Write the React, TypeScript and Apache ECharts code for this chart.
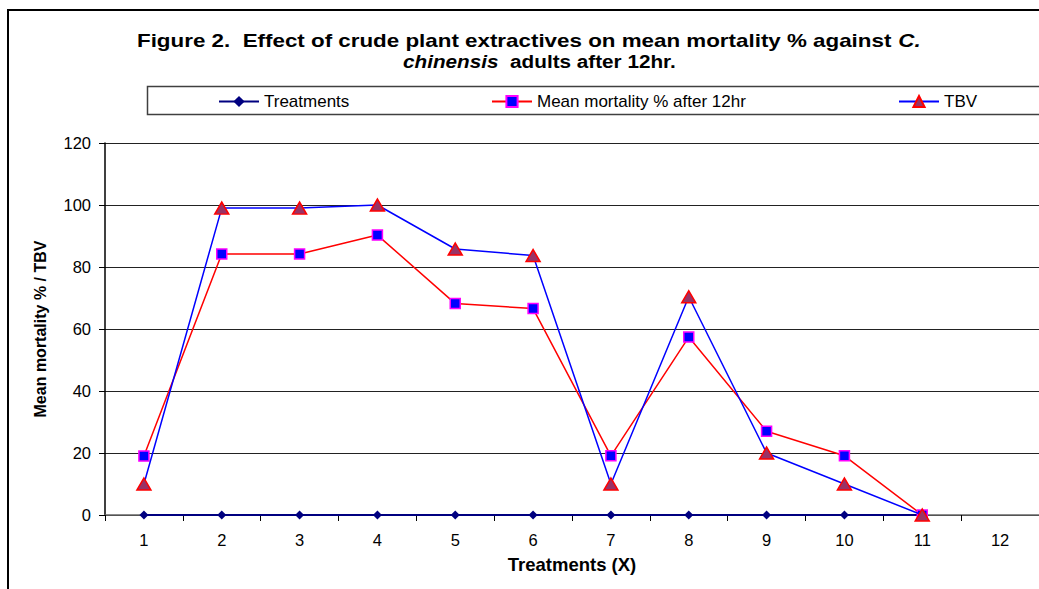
import React, { useEffect, useRef } from "react";
import * as echarts from "echarts";

const categories = ["1", "2", "3", "4", "5", "6", "7", "8", "9", "10", "11", "12"];
const treatments = [0, 0, 0, 0, 0, 0, 0, 0, 0, 0, 0];
const meanMortality = [19, 84.2, 84.2, 90.3, 68.2, 66.6, 19.1, 57.4, 27, 19.1, 0];
const tbv = [10, 99, 99, 100, 85.8, 83.7, 10, 70.4, 20, 10, 0];

const seriesNames = ["Treatments", "Mean mortality % after 12hr", "TBV"];
const titleLine1 = "Figure 2.  Effect of crude plant extractives on mean mortality % against ";
const titleItalic1 = "C.";
const titleItalic2 = "chinensis";
const titleLine2 = "  adults after 12hr.";
const xName = "Treatments (X)";
const yName = "Mean mortality % / TBV";

const FONT = "'Liberation Sans', Arial, sans-serif";

export default function App() {
  const ref = useRef<HTMLDivElement>(null);
  useEffect(() => {
    if (!ref.current) return;
    const chart = echarts.init(ref.current, null, { renderer: "svg" });
    const legendBase = {
      top: 93,
      padding: 0,
      itemWidth: 40,
      itemHeight: 14,
      itemGap: 5,
      textStyle: { fontFamily: FONT, fontSize: 17, color: "#000" },
    };
    const titleRich = {
      b: { fontFamily: FONT, fontSize: 18.5, fontWeight: "bold", fill: "#000" },
      bi: { fontFamily: FONT, fontSize: 18.5, fontWeight: "bold", fontStyle: "italic", fill: "#000" },
    };
    chart.setOption({
      animation: false,
      backgroundColor: "#fff",
      textStyle: { fontFamily: FONT },
      grid: { left: 105, top: 143, width: 939, height: 372 },
      legend: [
        { ...legendBase, left: 218, data: [seriesNames[0]] },
        { ...legendBase, left: 491, data: [seriesNames[1]] },
        { ...legendBase, left: 898, data: [seriesNames[2]] },
      ],
      graphic: [
        {
          type: "rect",
          shape: { x: 8, y: 10, width: 1300, height: 900 },
          style: { fill: "none", stroke: "#000", lineWidth: 2 },
          silent: true,
        },
        {
          type: "rect",
          shape: { x: 147.5, y: 86.5, width: 1200, height: 28 },
          style: { fill: "none", stroke: "#404040", lineWidth: 1.5 },
          silent: true,
        },
        {
          type: "text",
          x: 137,
          y: 40.5,
          scaleX: 1.21,
          style: {
            text: "{b|" + titleLine1 + "}{bi|" + titleItalic1 + "}",
            verticalAlign: "middle",
            align: "left",
            rich: titleRich,
          },
        },
        {
          type: "text",
          x: 403,
          y: 61,
          scaleX: 1.12,
          style: {
            text: "{bi|" + titleItalic2 + "}{b|" + titleLine2 + "}",
            verticalAlign: "middle",
            align: "left",
            rich: titleRich,
          },
        },
      ],
      xAxis: {
        type: "category",
        data: categories,
        boundaryGap: true,
        name: xName,
        nameLocation: "middle",
        nameGap: 40,
        nameTextStyle: { fontFamily: FONT, fontSize: 18.5, fontWeight: "bold", color: "#000" },
        axisLine: { lineStyle: { color: "#666", width: 1.5 } },
        axisTick: { show: true, length: 6, lineStyle: { color: "#000" } },
        axisLabel: { fontFamily: FONT, fontSize: 16.5, color: "#000", margin: 16 },
        splitLine: { show: false },
      },
      yAxis: {
        type: "value",
        min: 0,
        max: 120,
        interval: 20,
        name: yName,
        nameLocation: "middle",
        nameRotate: 90,
        nameGap: 57,
        nameTextStyle: { fontFamily: FONT, fontSize: 16, fontWeight: "bold", color: "#000" },
        axisLine: { show: true, lineStyle: { color: "#000", width: 1.5 } },
        axisTick: { show: true, length: 6, lineStyle: { color: "#000" } },
        axisLabel: { fontFamily: FONT, fontSize: 16.5, color: "#000", margin: 14 },
        splitLine: { show: true, lineStyle: { color: "#222", width: 1 } },
      },
      series: [
        {
          name: seriesNames[0],
          type: "line",
          data: treatments,
          symbol: "diamond",
          symbolSize: 9,
          lineStyle: { color: "#000080", width: 2 },
          itemStyle: { color: "#000080" },
          z: 2,
        },
        {
          name: seriesNames[1],
          type: "line",
          data: meanMortality,
          symbol: "rect",
          symbolSize: 10,
          lineStyle: { color: "#FF0000", width: 1.5 },
          itemStyle: { color: "#0000FF", borderColor: "#FF00FF", borderWidth: 1.5 },
          z: 3,
        },
        {
          name: seriesNames[2],
          type: "line",
          data: tbv,
          symbol: "triangle",
          symbolSize: [14, 12],
          lineStyle: { color: "#0000FF", width: 1.5 },
          itemStyle: { color: "#993366", borderColor: "#FF0000", borderWidth: 1.5 },
          z: 4,
        },
      ],
    });
    return () => chart.dispose();
  }, []);
  return (
    <div
      ref={ref}
      style={{ position: "fixed", left: 0, top: 0, width: 1039, height: 589 }}
    />
  );
}
